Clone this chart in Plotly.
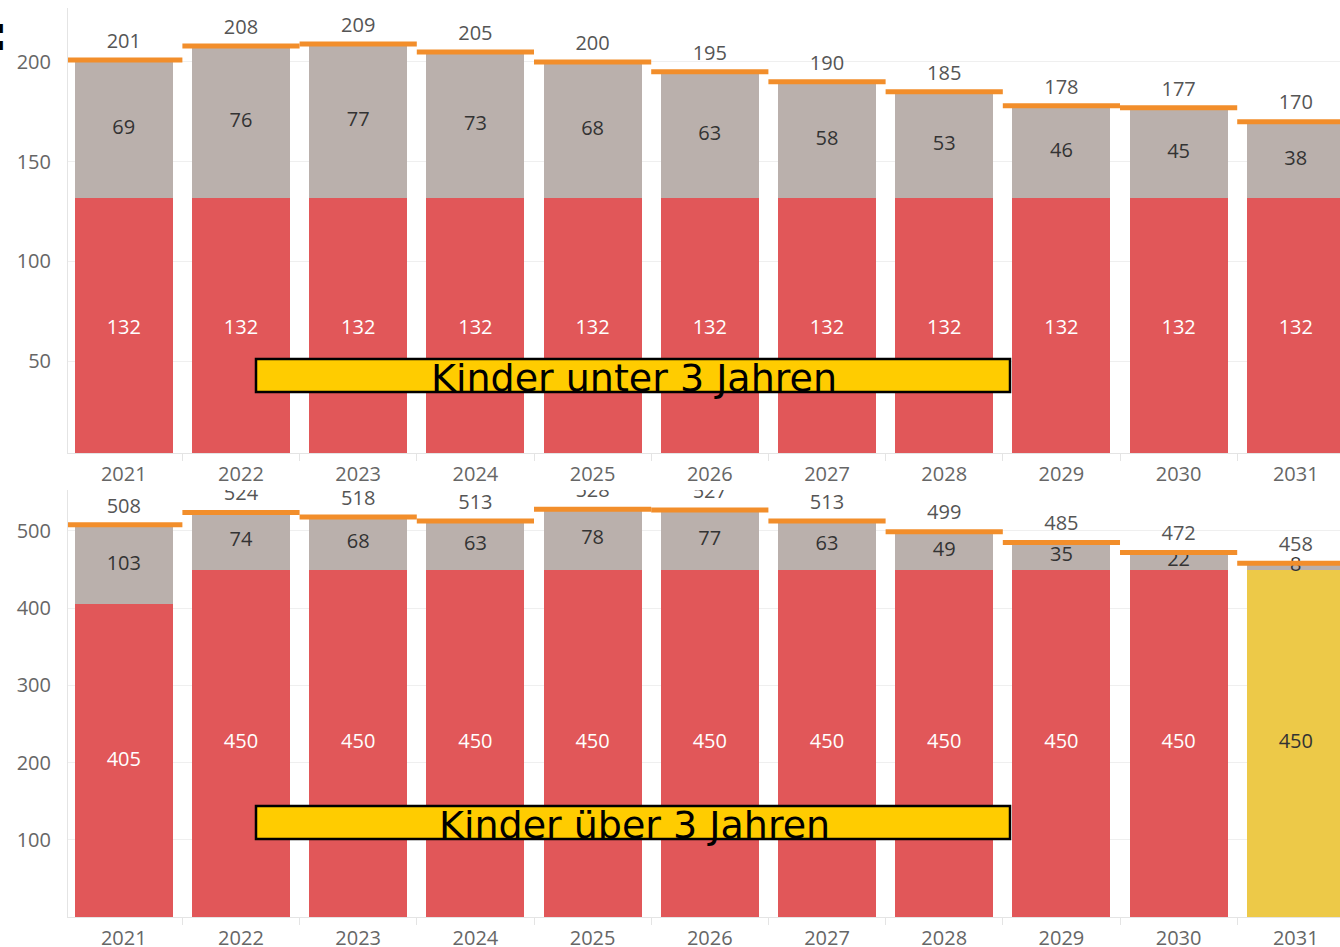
import plotly.graph_objects as go

# ---------------- data ----------------
years = ['2021', '2022', '2023', '2024', '2025', '2026', '2027', '2028', '2029', '2030', '2031']

u3_base = [132, 132, 132, 132, 132, 132, 132, 132, 132, 132, 132]
u3_extra = [69, 76, 77, 73, 68, 63, 58, 53, 46, 45, 38]
u3_total = [201, 208, 209, 205, 200, 195, 190, 185, 178, 177, 170]

o3_base = [405, 450, 450, 450, 450, 450, 450, 450, 450, 450, 450]
o3_extra = [103, 74, 68, 63, 78, 77, 63, 49, 35, 22, 8]
o3_total = [508, 524, 518, 513, 528, 527, 513, 499, 485, 472, 458]

u3_ticks = [50, 100, 150, 200]
o3_ticks = [100, 200, 300, 400, 500]

label_u3 = 'Kinder unter 3 Jahren'
label_o3 = 'Kinder über 3 Jahren'
highlight_year = '2031'

# ---------------- style ----------------
RED = '#E15759'
GRAY = '#BAB0AC'
ORANGE = '#F28E2B'
YELLOW = '#EDC948'
BOXY = '#FFCC00'
FONT = 'Open Sans'
FS = 20

xs = list(range(len(years)))
BAR_W = 0.836

fig = go.Figure()


def add_panel(base, extra, total, xa, ya, highlight):
    base_colors = [YELLOW if (highlight and y == highlight_year) else RED for y in years]
    base_text_colors = ['#333333' if (highlight and y == highlight_year) else 'white' for y in years]
    fig.add_trace(go.Bar(x=xs, y=base, width=BAR_W, marker=dict(color=base_colors, line=dict(width=0)),
                         xaxis=xa, yaxis=ya, showlegend=False, hoverinfo='skip'))
    fig.add_trace(go.Bar(x=xs, y=extra, width=BAR_W, marker=dict(color=GRAY, line=dict(width=0)),
                         xaxis=xa, yaxis=ya, showlegend=False, hoverinfo='skip'))
    # inner labels
    fig.add_trace(go.Scatter(x=xs, y=[b / 2 for b in base], mode='text', text=[str(b) for b in base],
                             textfont=dict(family=FONT, size=FS, color=base_text_colors),
                             xaxis=xa, yaxis=ya, showlegend=False, hoverinfo='skip', cliponaxis=False))
    fig.add_trace(go.Scatter(x=xs, y=[b + e / 2 for b, e in zip(base, extra)], mode='text',
                             text=[str(e) for e in extra],
                             textfont=dict(family=FONT, size=FS, color='#333333'),
                             xaxis=xa, yaxis=ya, showlegend=False, hoverinfo='skip', cliponaxis=False))
    # orange total lines
    lx, ly = [], []
    for x, t in zip(xs, total):
        lx += [x - 0.5, x + 0.5, None]
        ly += [t, t, None]
    fig.add_trace(go.Scatter(x=lx, y=ly, mode='lines', line=dict(color=ORANGE, width=5),
                             xaxis=xa, yaxis=ya, showlegend=False, hoverinfo='skip', cliponaxis=True))
    # total labels
    fig.add_trace(go.Scatter(x=xs, y=total, mode='markers+text', text=[str(t) for t in total],
                             textposition='top center',
                             marker=dict(size=10, color='rgba(0,0,0,0)'),
                             textfont=dict(family=FONT, size=FS, color='#555555'),
                             xaxis=xa, yaxis=ya, showlegend=False, hoverinfo='skip', cliponaxis=True))


add_panel(u3_base, u3_extra, u3_total, 'x', 'y', False)
add_panel(o3_base, o3_extra, o3_total, 'x2', 'y2', True)

H = 947
T, B = 8, 30
plot_h = H - T - B
top_bottom_px = 453
bot_top_px = 490
bot_bottom_px = H - B


def py(px):
    return (bot_bottom_px - px) / plot_h


L = 68
W = 1340
plot_w = W - L


def pxx(px):
    return (px - L) / plot_w


xaxis_common = dict(
    range=[-0.476, 10.377], tickmode='array', tickvals=xs, ticktext=years,
    showgrid=False, zeroline=False, showline=True, linecolor='#e4e4e4', linewidth=1,
    ticks='outside', ticklen=0, tickcolor='rgba(0,0,0,0)',
    ticklabelstandoff=3,
    tickfont=dict(family=FONT, size=FS, color='#666666'),
    minor=dict(tickvals=[x + 0.5 for x in xs], ticks='outside', ticklen=7, tickcolor='#e4e4e4', tickwidth=1, showgrid=False),
    fixedrange=True, automargin=False,
)
yaxis_common = dict(
    showgrid=True, gridcolor='#efefef', gridwidth=1, zeroline=False,
    showline=True, linecolor='#e4e4e4', linewidth=1,
    ticks='outside', ticklen=0, tickcolor='rgba(0,0,0,0)', ticklabelstandoff=12,
    tickfont=dict(family=FONT, size=FS, color='#666666'),
    tickmode='array', fixedrange=True, automargin=False,
)

fig.update_layout(
    width=W, height=H,
    margin=dict(l=L, r=0, t=T, b=B, autoexpand=False),
    paper_bgcolor='white', plot_bgcolor='white',
    barmode='stack', bargap=0,
    xaxis=dict(domain=[0, 1], anchor='y', **xaxis_common),
    xaxis2=dict(domain=[0, 1], anchor='y2', **xaxis_common),
    yaxis=dict(domain=[py(top_bottom_px), 1], anchor='x', range=[4, 227], tickvals=u3_ticks,
               ticktext=[str(v) for v in u3_ticks], **yaxis_common),
    yaxis2=dict(domain=[0, py(bot_top_px)], anchor='x2', range=[0, 553], tickvals=o3_ticks,
                ticktext=[str(v) for v in o3_ticks], **yaxis_common),
    showlegend=False,
)

# overlay label boxes
for (top_px, bot_px, txt) in [(359, 392, label_u3), (806, 839, label_o3)]:
    fig.add_shape(type='rect', xref='paper', yref='paper',
                  x0=pxx(256), x1=pxx(1010), y0=py(bot_px), y1=py(top_px),
                  fillcolor=BOXY, line=dict(color='black', width=2.5), layer='above')
    fig.add_annotation(xref='paper', yref='paper', x=pxx(634), y=py((top_px + bot_px) / 2 + 2),
                       xanchor='center', yanchor='middle', text=txt, showarrow=False,
                       font=dict(family='DejaVu Sans', size=38, color='black'))

# cut-off glyph at top-left corner
fig.add_annotation(xref='paper', yref='paper', x=pxx(10), y=py(33), xanchor='right', yanchor='middle',
                   text='<b>:</b>', showarrow=False, font=dict(family='DejaVu Sans', size=48, color='black'))

fig.write_html('out.html')
